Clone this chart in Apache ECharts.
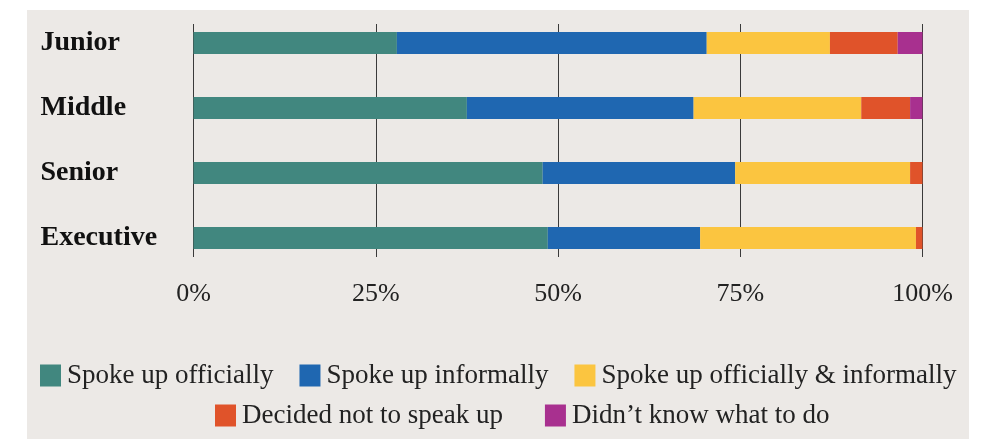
<!DOCTYPE html>
<html>
<head>
<meta charset="utf-8">
<script src="https://cdn.jsdelivr.net/npm/echarts@6/dist/echarts.min.js"></script>
<style>
  html, body { margin: 0; padding: 0; background: #ffffff; }
  #panel { position: absolute; left: 27px; top: 10px; width: 942px; height: 429px; background: #ece9e6; }
  #chart { position: absolute; left: 0; top: 0; width: 994px; height: 439px; }
</style>
</head>
<body>
<div id="panel"></div>
<div id="chart"></div>
<script>
// Share of respondents (%) by seniority level and how they responded
const levels = ['Junior', 'Middle', 'Senior', 'Executive'];
const spokeOfficially = [27.9, 37.5, 47.9, 48.6];
const spokeInformally = [42.5, 31.1, 26.4, 20.9];
const spokeBoth = [16.9, 23.0, 24.0, 29.6];
const decidedNot = [9.3, 6.7, 1.7, 0.9];
const didntKnow = [3.4, 1.7, 0, 0];
const tickValues = [0, 25, 50, 75, 100];

const seriesNames = [
  'Spoke up officially',
  'Spoke up informally',
  'Spoke up officially & informally',
  'Decided not to speak up',
  'Didn\u2019t know what to do'
];
const seriesValues = [spokeOfficially, spokeInformally, spokeBoth, decidedNot, didntKnow];
const colors = ['#41877f', '#1f67b1', '#fbc540', '#e0532a', '#a8308f'];

const serif = '"Liberation Serif", "DejaVu Serif", serif';
const chart = echarts.init(document.getElementById('chart'), null, { renderer: 'canvas' });

const left = 193.5, right = 994 - 922.5;

chart.setOption({
  backgroundColor: 'transparent',
  animation: false,
  color: colors,
  grid: [
    { left: left, right: right, top: 10.5, height: 260 },
    { left: left, right: right, top: 24, height: 233 }
  ],
  xAxis: [
    {
      gridIndex: 0, type: 'value', min: tickValues[0], max: tickValues[tickValues.length - 1],
      interval: tickValues[1] - tickValues[0],
      axisLine: { show: false }, axisTick: { show: false }, splitLine: { show: false },
      axisLabel: { formatter: '{value}%', fontFamily: serif, fontSize: 26, color: '#222', margin: 11 }
    },
    {
      gridIndex: 1, type: 'value', min: tickValues[0], max: tickValues[tickValues.length - 1],
      interval: tickValues[1] - tickValues[0],
      axisLine: { show: false }, axisTick: { show: false }, axisLabel: { show: false },
      splitLine: { show: true, lineStyle: { color: '#3a3a3a', width: 1 } }
    }
  ],
  yAxis: [
    {
      gridIndex: 0, type: 'category', data: levels, inverse: true,
      axisLine: { show: false }, axisTick: { show: false },
      axisLabel: { align: 'left', margin: 153, fontFamily: serif, fontWeight: 'bold', fontSize: 28, color: '#111' }
    },
    {
      gridIndex: 1, type: 'category', data: levels, inverse: true, show: false
    }
  ],
  legend: [
    {
      data: seriesNames.slice(0, 3), left: 40, top: 362, orient: 'horizontal', padding: 0,
      icon: 'rect', itemWidth: 21, itemHeight: 22, itemGap: 26,
      textStyle: { fontFamily: serif, fontSize: 27, color: '#222', padding: [0, 0, 0, 1] }
    },
    {
      data: seriesNames.slice(3), left: 215, top: 402, orient: 'horizontal', padding: 0,
      icon: 'rect', itemWidth: 21, itemHeight: 22, itemGap: 42,
      textStyle: { fontFamily: serif, fontSize: 27, color: '#222', padding: [0, 0, 0, 1] }
    }
  ],
  series: seriesNames.map((name, i) => ({
    name: name,
    type: 'bar',
    stack: 'total',
    xAxisIndex: 0,
    yAxisIndex: 0,
    barWidth: 22,
    data: seriesValues[i],
    itemStyle: { color: colors[i] }
  }))
});
</script>
</body>
</html>
